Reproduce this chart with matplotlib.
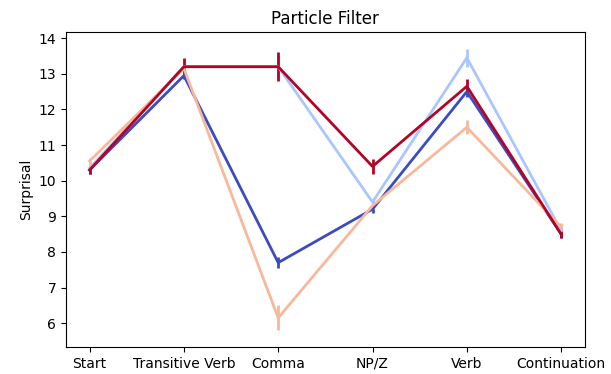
import matplotlib
matplotlib.use("Agg")
import matplotlib.pyplot as plt

regions = ["Start", "Transitive Verb", "Comma", "NP/Z", "Verb", "Continuation"]

# four conditions, coolwarm palette
blue_dark = [10.3, 12.95, 7.7, 9.2, 12.5, 8.5]
blue_dark_err = [0.1, 0.1, 0.15, 0.1, 0.15, 0.1]
blue_light = [10.35, 13.2, 13.2, 9.4, 13.45, 8.6]
blue_light_err = [0.1, 0.15, 0.3, 0.1, 0.25, 0.1]
orange = [10.55, 13.15, 6.15, 9.3, 11.5, 8.7]
orange_err = [0.1, 0.15, 0.35, 0.1, 0.2, 0.1]
red = [10.3, 13.2, 13.2, 10.4, 12.65, 8.5]
red_err = [0.1, 0.25, 0.4, 0.2, 0.2, 0.1]

series = [
    (blue_dark, blue_dark_err, "#3b4cc0"),
    (blue_light, blue_light_err, "#aac7fd"),
    (orange, orange_err, "#f7b89c"),
    (red, red_err, "#b40426"),
]

fig = plt.figure(figsize=(6.11, 3.74), dpi=100)
ax = fig.add_axes([0.108, 0.072, 0.849, 0.842])
x = list(range(len(regions)))
for vals, errs, col in series:
    ax.errorbar(x, vals, yerr=errs, color=col, lw=2, elinewidth=2)

ax.set_xticks(x)
ax.set_xticklabels(regions)
ax.set_ylim(5.33, 14.17)
ax.set_xlim(-0.25, 5.25)
ax.set_ylabel("Surprisal")
ax.set_title("Particle Filter")
fig.savefig("out.png", dpi=100)
